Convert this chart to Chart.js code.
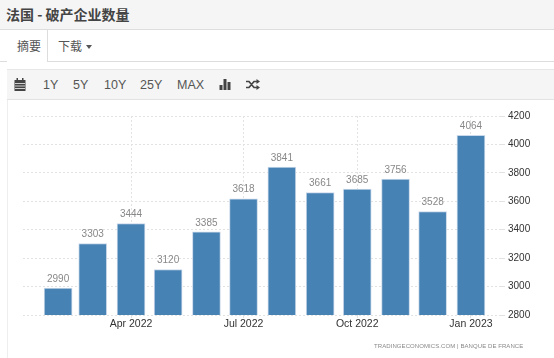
<!DOCTYPE html>
<html>
<head>
<meta charset="utf-8">
<title>法国 - 破产企业数量</title>
<script src="https://cdn.jsdelivr.net/npm/chart.js@4"></script>
<style>
html, body { margin: 0; padding: 0; background: #fff; }
body { width: 554px; height: 358px; position: relative; overflow: hidden; font-family: "Liberation Sans", Arial, sans-serif; }
.abs { position: absolute; white-space: nowrap; }
#head { left: 0; top: 0; width: 554px; height: 29px; background: #f5f5f5; border-bottom: 1px solid #ddd; }
#title { left: 6px; top: 3px; font: bold 14px/22px "Noto Sans CJK SC"; color: #444; }
#tabline { left: 47px; top: 61px; width: 507px; height: 1px; background: #ddd; }
#tabline2 { left: 0; top: 61px; width: 7px; height: 1px; background: #ddd; }
#tab { left: 47px; top: 30px; width: 1px; height: 32px; background: #ddd; }
.tabtxt { font: 12px/16px "Noto Sans CJK SC"; color: #555; top: 38px; }
#caret { left: 86px; top: 45px; border: 3px solid transparent; border-top: 4px solid #555; border-bottom: 0; }
#bar { left: 7px; top: 69px; width: 547px; height: 31px; background: #f5f5f5; border-top: 1px solid #e7e7e7; border-bottom: 1px solid #e3e3e3; box-sizing: border-box; }
#side { left: 7px; top: 100px; width: 1px; height: 258px; background: #eee; }
.btn { top: 78px; font: 12.5px/15px "Liberation Sans"; color: #555; }
#chartbox { left: 0; top: 100px; width: 554px; height: 258px; }
#src { left: 374px; top: 342px; font: 6px/9px "Liberation Sans"; letter-spacing: 0.08px; color: #888; }
</style>
</head>
<body>
<div class="abs" id="head"></div>
<div class="abs" id="title">法国 - 破产企业数量</div>
<div class="abs" id="tabline"></div>
<div class="abs" id="tabline2"></div>
<div class="abs" id="tab"></div>
<div class="abs tabtxt" style="left:17px">摘要</div>
<div class="abs tabtxt" style="left:58px">下载</div>
<div class="abs" id="caret"></div>
<div class="abs" id="bar"></div>
<div class="abs" id="side"></div>
<svg class="abs" style="left:14px;top:78px" width="12" height="13" viewBox="0 0 12 13">
	<rect x="0.5" y="2" width="11" height="11" fill="#444"/>
	<rect x="2.5" y="0" width="1.5" height="3" fill="#444"/>
	<rect x="8" y="0" width="1.5" height="3" fill="#444"/>
	<path d="M1 5.5H11M1 8H11M1 10.5H11" stroke="#f5f5f5" stroke-width="0.8"/>
</svg>
<div class="abs btn" style="left:43px">1Y</div>
<div class="abs btn" style="left:73px">5Y</div>
<div class="abs btn" style="left:104px">10Y</div>
<div class="abs btn" style="left:140px">25Y</div>
<div class="abs btn" style="left:177px">MAX</div>
<svg class="abs" style="left:219px;top:79px" width="12" height="11" viewBox="0 0 12 11">
	<rect x="0.5" y="6" width="3" height="5" fill="#444"/>
	<rect x="4.5" y="0" width="3" height="11" fill="#444"/>
	<rect x="8.5" y="3" width="3" height="8" fill="#444"/>
</svg>
<svg class="abs" style="left:246px;top:79px" width="14" height="11" viewBox="0 0 14 11">
	<path d="M0 2.5H3L8 8.5H11M0 8.5H3L8 2.5H11" fill="none" stroke="#444" stroke-width="1.7"/>
	<path d="M10.5 0L14 2.5L10.5 5ZM10.5 6L14 8.5L10.5 11Z" fill="#444"/>
</svg>
<div class="abs" id="chartbox"><canvas id="myChart" width="554" height="258"></canvas></div>
<div class="abs" id="src">TRADINGECONOMICS.COM | BANQUE DE FRANCE</div>

<script>
// days counted from 1 Jan 2022, so the bars keep the uneven month spacing
const months = ['Feb 2022', 'Mar 2022', 'Apr 2022', 'May 2022', 'Jun 2022', 'Jul 2022', 'Aug 2022', 'Sep 2022', 'Oct 2022', 'Nov 2022', 'Dec 2022', 'Jan 2023']
const days = [31, 59, 90, 120, 151, 181, 212, 243, 273, 304, 334, 365]
const values = [2990, 3303, 3444, 3120, 3385, 3618, 3841, 3661, 3685, 3756, 3528, 4064]
const tickDays = [90, 181, 273, 365]
const tickLabels = ['Apr 2022', 'Jul 2022', 'Oct 2022', 'Jan 2023']

const narrow = '"Liberation Sans Narrow", "Liberation Sans"'

// numbers above the bars
const barLabels = {
	id: 'barLabels',
	afterDatasetsDraw(chart) {
		const ctx = chart.ctx
		ctx.save()
		ctx.font = '10px ' + narrow
		ctx.fillStyle = '#888'
		ctx.textAlign = 'center'
		ctx.textBaseline = 'bottom'
		chart.getDatasetMeta(0).data.forEach((bar, i) => {
			ctx.fillText(values[i], bar.x, bar.y - 4)
		})
		ctx.restore()
	}
}

const grid = {
	color: '#e2e2e2',
	lineWidth: 1,
	tickLength: 5
}

var ctx = document.getElementById('myChart').getContext('2d')
var chart = new Chart(ctx, {
	type: 'bar',
	data: {
		datasets: [{
			data: days.map((d, i) => ({ x: d, y: values[i] })),
			backgroundColor: '#4682b4',
			borderColor: '#c9d8ea',
			borderWidth: 1,
			barThickness: 28
		}]
	},
	plugins: [barLabels],
	options: {
		responsive: false,
		animation: false,
		layout: { padding: { left: 23, top: 16, right: 0, bottom: 0 } },
		plugins: { legend: { display: false }, tooltip: { enabled: false } },
		scales: {
			x: {
				type: 'linear',
				offset: false,
				min: 2.6,
				max: 388.5,
				afterBuildTicks(scale) {
					scale.ticks = tickDays.map(v => ({ value: v }))
				},
				afterFit(scale) { scale.height = 43 },
				grid: { ...grid, offset: false, tickLength: 3 },
				border: { display: false, dash: [2, 2] },
				ticks: {
					autoSkip: false,
					maxRotation: 0,
					padding: 0,
					color: '#333',
					font: { family: narrow, size: 10.5 },
					callback: v => tickLabels[tickDays.indexOf(v)]
				}
			},
			y: {
				position: 'right',
				min: 2800,
				max: 4200,
				afterFit(scale) { scale.width = 54 },
				grid: grid,
				border: { display: false, dash: [2, 2] },
				ticks: {
					stepSize: 200,
					padding: 3,
					color: '#333',
					font: { family: narrow, size: 10 },
					callback: v => String(v)
				}
			}
		}
	}
})
</script>
</body>
</html>
